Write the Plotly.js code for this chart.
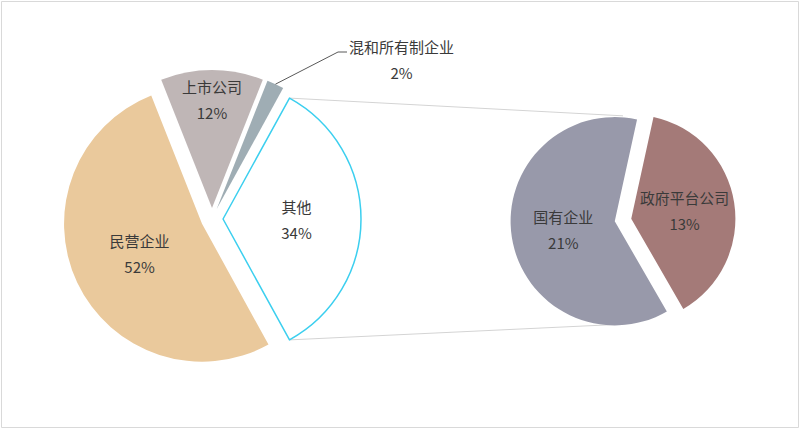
<!DOCTYPE html>
<html><head><meta charset="utf-8">
<script src="https://cdn.plot.ly/plotly-3.0.1.min.js"></script>
<style>html,body{margin:0;padding:0;background:#fff}#chart{width:800px;height:429px}</style>
</head><body><div id="chart"></div>
<script>
// Main pie, clockwise order (the last slice "其他" is broken out into the second pie)
const mainLabels = ['民营企业', '上市公司', '混和所有制企业', '其他'];
const mainValues = [52, 12, 2, 34];
const mainColors = ['#EAC99C', '#BFB6B6', '#9FADB4', '#FFFFFF'];
// Second pie: breakdown of "其他"
const subLabels = ['国有企业', '政府平台公司'];
const subValues = [21, 13];
const subColors = ['#9899AA', '#A47A78'];

const W = 800, H = 429;
const PULL = 0.08;
const FONT = '"Noto Sans CJK SC", "Noto Sans", sans-serif';
const TXT = '#3a3a3a';
const FS = 15;          // visible glyph size
const LINE_FS = 20;     // base size that sets the line spacing (1.3em)
const leftBox = {cx: 212, cy: 219, size: 298};
const rightBox = {cx: 623, cy: 220, size: 225};
const subRotation = 150;

function domainOf(b) {
  return {x: [(b.cx - b.size / 2) / W, (b.cx + b.size / 2) / W],
          y: [1 - (b.cy + b.size / 2) / H, 1 - (b.cy - b.size / 2) / H]};
}
const sum = a => a.reduce((s, v) => s + v, 0);
const mainTotal = sum(mainValues);
const otherIdx = mainLabels.length - 1;
// rotate so that the broken-out slice is centred at 3 o'clock
const mainRotation = 90 + mainValues[otherIdx] / mainTotal * 180;

const sp = s => '<span style="font-size:' + FS + 'px">' + s + '</span>';
const pct = (l, v) => sp(l) + '<br>' + sp(v + '%');
const mainText = mainLabels.map((l, i) => mainValues[i] / mainTotal < 0.05 ? '' : pct(l, mainValues[i]));
const subText = subLabels.map((l, i) => pct(l, subValues[i]));

// geometry helpers mirroring the pie layout
function rOf(b) { return b.size / (2 + 2 * PULL); }
function pt(cx, cy, r, a) { const t = a * Math.PI / 180; return [cx + r * Math.sin(t), cy - r * Math.cos(t)]; }
function sliceAngles(values, rot, i) {
  const tot = sum(values);
  const before = sum(values.slice(0, i));
  const s = rot + before / tot * 360, e = rot + (before + values[i]) / tot * 360;
  return [s, e, (s + e) / 2];
}
const R1 = rOf(leftBox), R2 = rOf(rightBox);
const [oS, oE, oM] = sliceAngles(mainValues, mainRotation, otherIdx);
const apexO = pt(leftBox.cx, leftBox.cy, PULL * R1, oM);
const cTop = pt(apexO[0], apexO[1], R1, oS);
const cBot = pt(apexO[0], apexO[1], R1, oE);
const sTop = [rightBox.cx, rightBox.cy - R2];
const sBot = [rightBox.cx, rightBox.cy + R2];

const smallIdx = mainValues.findIndex(v => v / mainTotal < 0.05);
const [, , sM] = sliceAngles(mainValues, mainRotation, smallIdx);
const apexS = pt(leftBox.cx, leftBox.cy, PULL * R1, sM);
const outerS = pt(apexS[0], apexS[1], R1, sM);
const labelPos = [401, 59];
const elbow = [338, 52], leadEnd = [347, 52];

const px = x => x / W, py = y => 1 - y / H;

const traces = [
  {type: 'pie', labels: mainLabels, values: mainValues, sort: false, direction: 'clockwise',
   rotation: mainRotation, pull: mainValues.map(() => PULL), domain: domainOf(leftBox),
   marker: {colors: mainColors, line: {color: mainColors.map((c, i) => i === otherIdx ? '#3CCFEF' : c), width: mainValues.map((v, i) => i === otherIdx ? 1.5 : 0)}},
   text: mainText, textinfo: 'text', textposition: 'inside', insidetextorientation: 'horizontal',
   textfont: {family: FONT, size: LINE_FS, color: TXT}, hoverinfo: 'none', showlegend: false},
  {type: 'pie', labels: subLabels, values: subValues, sort: false, direction: 'clockwise',
   rotation: subRotation, pull: subValues.map(() => PULL), domain: domainOf(rightBox),
   marker: {colors: subColors, line: {width: 0}},
   text: subText, textinfo: 'text', textposition: 'inside', insidetextorientation: 'horizontal',
   textfont: {family: FONT, size: LINE_FS, color: TXT}, hoverinfo: 'none', showlegend: false}
];

const layout = {
  width: W, height: H, margin: {l: 0, r: 0, t: 0, b: 0},
  paper_bgcolor: '#ffffff', showlegend: false,
  font: {family: FONT, color: TXT},
  shapes: [
    {type: 'line', xref: 'paper', yref: 'paper', x0: px(cTop[0]), y0: py(cTop[1]), x1: px(sTop[0]), y1: py(sTop[1]), line: {color: '#D4D4D4', width: 1}, layer: 'below'},
    {type: 'line', xref: 'paper', yref: 'paper', x0: px(cBot[0]), y0: py(cBot[1]), x1: px(sBot[0]), y1: py(sBot[1]), line: {color: '#D4D4D4', width: 1}, layer: 'below'},
    {type: 'path', xref: 'paper', yref: 'paper',
     path: 'M' + px(outerS[0]) + ',' + py(outerS[1]) + ' L' + px(elbow[0]) + ',' + py(elbow[1]) + ' L' + px(leadEnd[0]) + ',' + py(leadEnd[1]),
     line: {color: '#595959', width: 1}},
    {type: 'rect', xref: 'paper', yref: 'paper', x0: 1.5 / W, x1: 1 - 1.5 / W, y0: 1.5 / H, y1: 1 - 1.5 / H, line: {color: '#D9D9D9', width: 1}}
  ],
  annotations: [
    {xref: 'paper', yref: 'paper', x: px(labelPos[0]), y: py(labelPos[1]), xanchor: 'center', yanchor: 'middle',
     text: pct(mainLabels[smallIdx], mainValues[smallIdx]), showarrow: false, font: {family: FONT, size: LINE_FS, color: TXT}}
  ]
};

Plotly.newPlot('chart', traces, layout, {displayModeBar: false, staticPlot: true});
</script>
</body></html>
